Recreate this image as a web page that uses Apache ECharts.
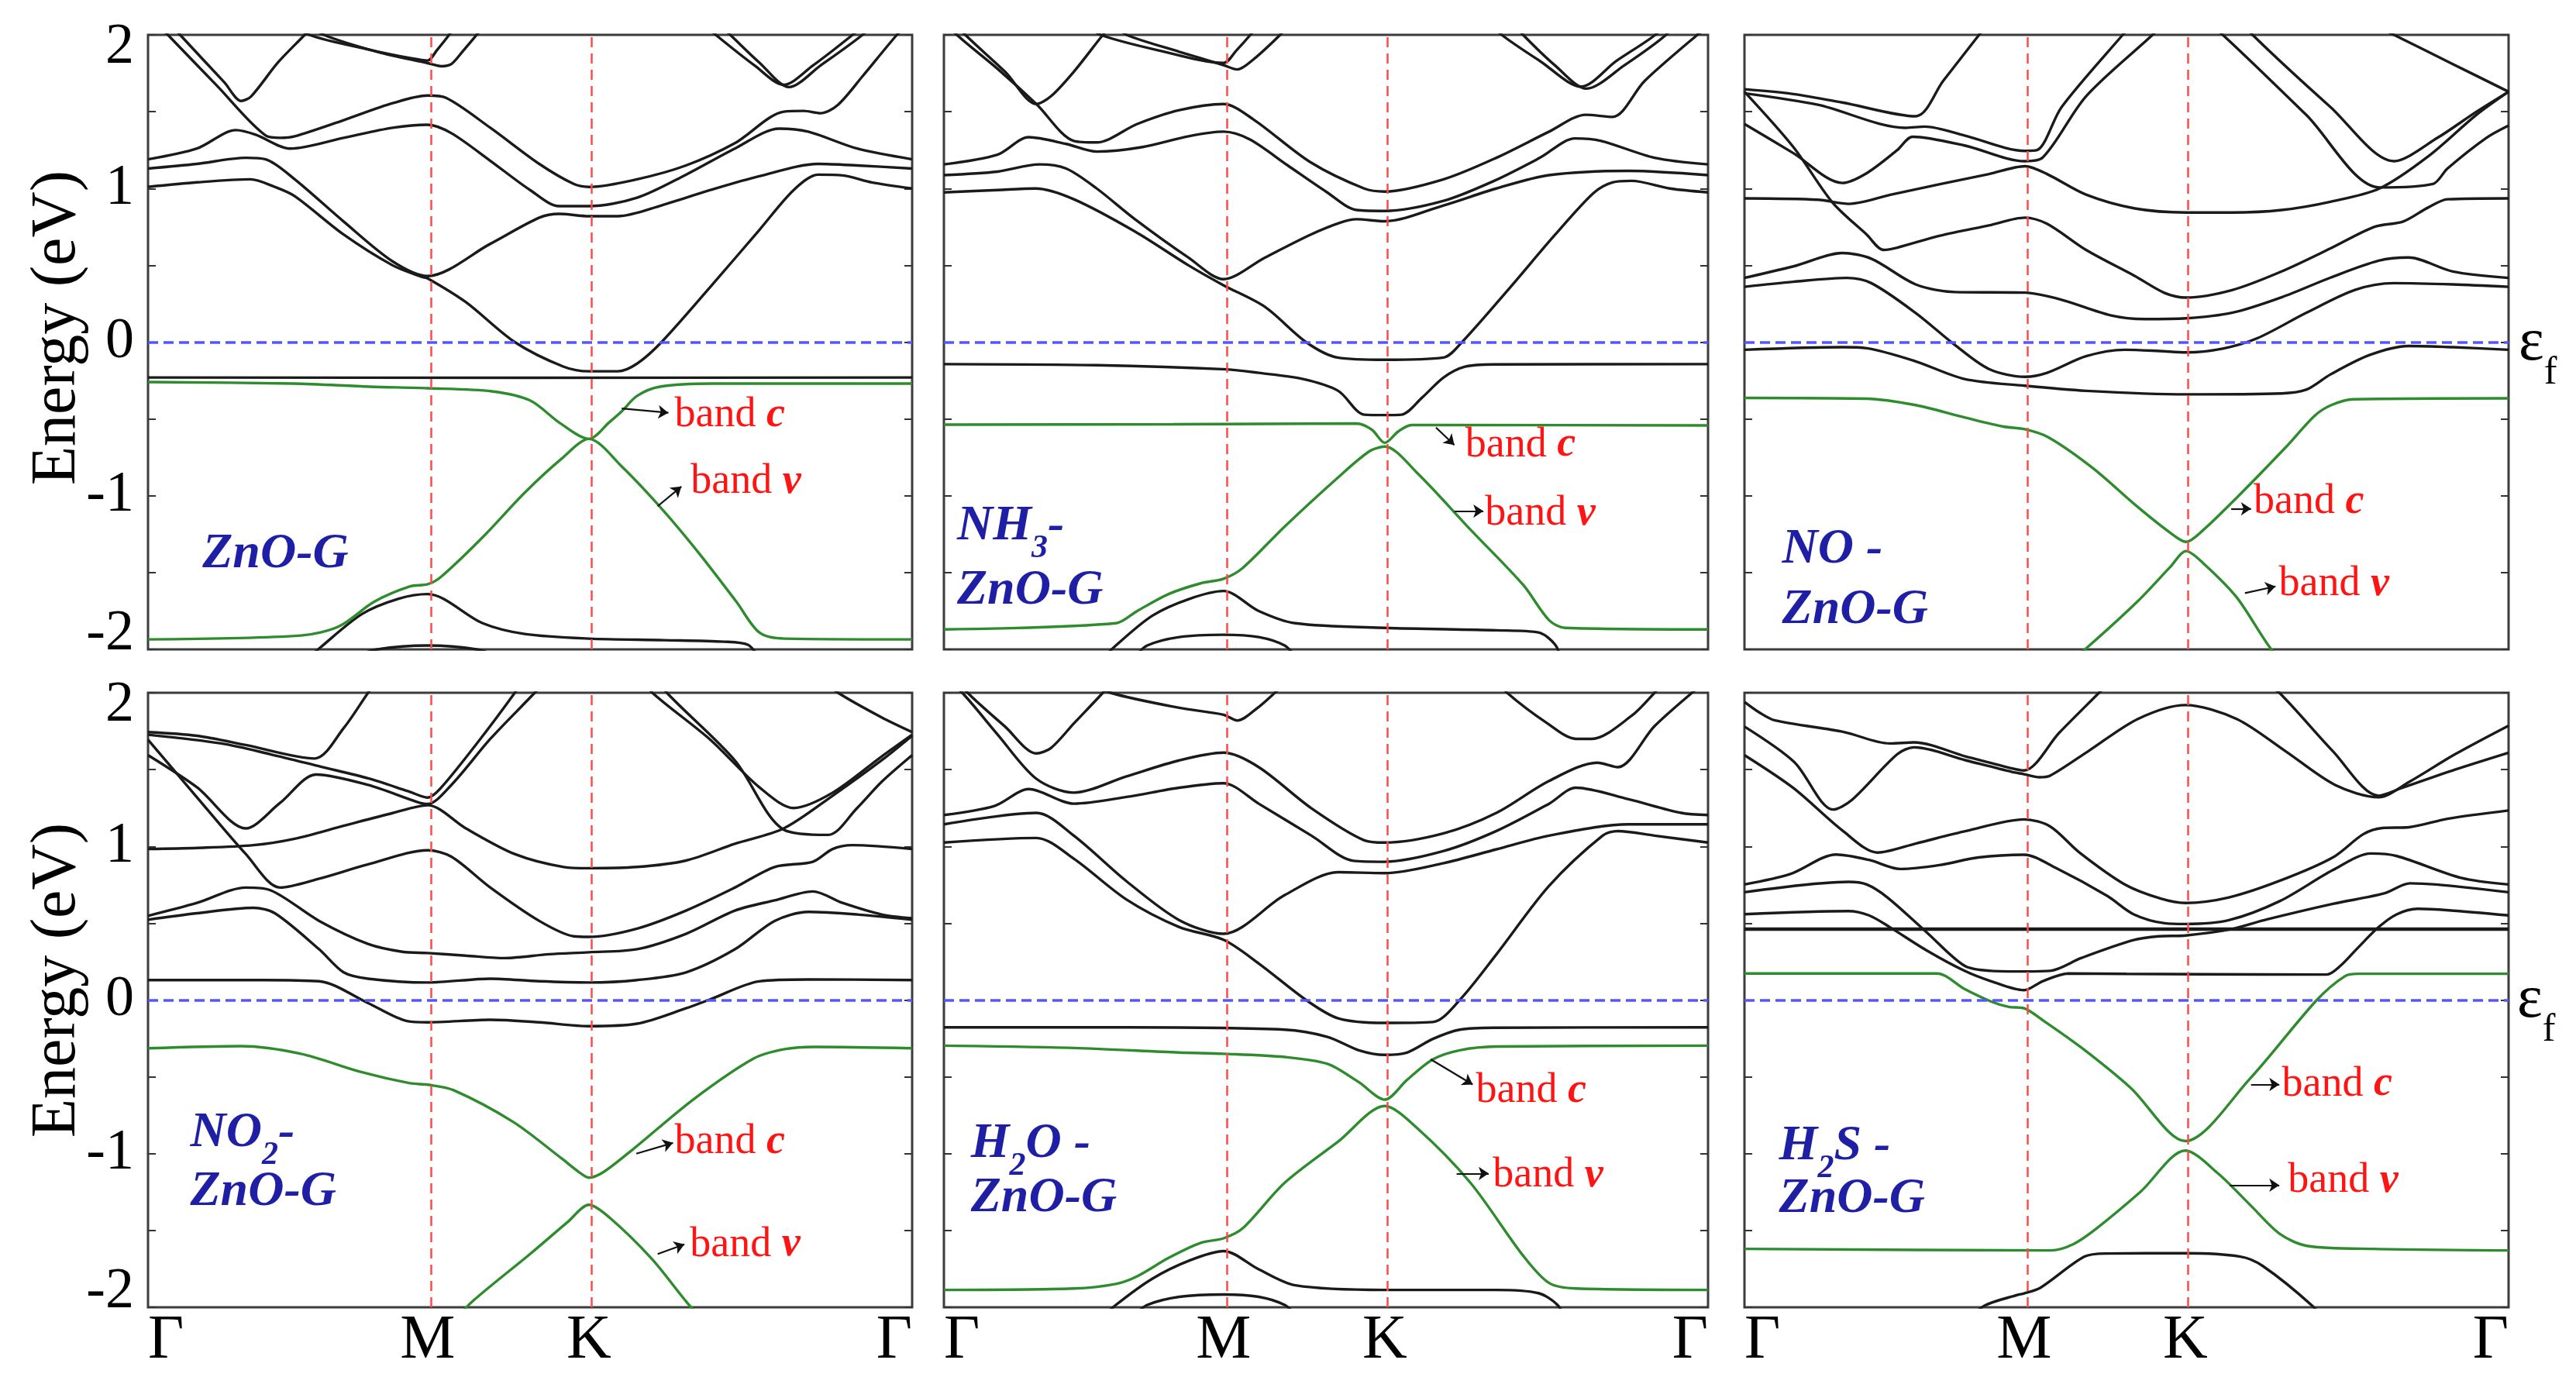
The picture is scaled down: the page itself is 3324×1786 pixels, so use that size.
<!DOCTYPE html>
<html><head><meta charset="utf-8">
<script src="https://cdn.jsdelivr.net/npm/echarts@6/dist/echarts.min.js"></script>
<style>html,body{margin:0;padding:0;background:#fff}#c{width:3324px;height:1786px}</style>
</head><body><div id="c"></div>
<script>
const FONT = 'Liberation Serif';
const kTicks = [0, 0.366, 0.577, 1];
const kLabels = ['Γ', 'M', 'K', 'Γ'];
const eTicksMajor = [-2, -1, 0, 1, 2];

// ---------- ZnO-G ----------
const znoBlack = [
 [[0,-0.23],[0.5,-0.232],[1,-0.23]],
 [[0,1.01],[0.064,1.04],[0.134,1.06],[0.166,1.01],[0.192,0.95],[0.256,0.70],[0.32,0.50],[0.358,0.425],[0.366,0.415],[0.416,0.26],[0.48,0],[0.544,-0.16],[0.577,-0.19],[0.615,-0.19],[0.64,-0.14],[0.672,0],[0.736,0.36],[0.8,0.73],[0.845,0.99],[0.877,1.09],[0.909,1.085],[0.947,1.04],[1,1.0]],
 [[0,1.13],[0.064,1.16],[0.128,1.2],[0.154,1.19],[0.192,1.06],[0.256,0.785],[0.32,0.526],[0.366,0.43],[0.448,0.64],[0.512,0.81],[0.538,0.835],[0.577,0.82],[0.615,0.82],[0.672,0.89],[0.736,0.99],[0.8,1.08],[0.877,1.16],[0.928,1.15],[1,1.13]],
 [[0,1.19],[0.064,1.26],[0.115,1.38],[0.141,1.35],[0.186,1.26],[0.256,1.33],[0.32,1.395],[0.366,1.415],[0.397,1.36],[0.448,1.18],[0.5,0.99],[0.538,0.885],[0.577,0.885],[0.64,0.94],[0.704,1.09],[0.768,1.26],[0.826,1.39],[0.864,1.37],[0.928,1.26],[1,1.19]],
 [[0,2.13],[0.026,2.0],[0.09,1.67],[0.154,1.345],[0.173,1.33],[0.192,1.34],[0.256,1.445],[0.32,1.555],[0.366,1.605],[0.39,1.59],[0.448,1.395],[0.512,1.16],[0.557,1.03],[0.577,1.01],[0.64,1.06],[0.704,1.15],[0.768,1.295],[0.832,1.5],[0.858,1.505],[0.88,1.49],[0.903,1.545],[0.935,1.73],[0.98,2.0],[1,2.1]],
 [[0,2.23],[0.042,2.0],[0.1,1.69],[0.122,1.57],[0.135,1.6],[0.17,1.82],[0.205,2.0],[0.22,2.08]],
 [[0.19,2.08],[0.211,2.0],[0.288,1.905],[0.346,1.846],[0.366,1.833],[0.378,1.9],[0.394,2.0],[0.405,2.08]],
 [[0.215,2.06],[0.23,2.0],[0.3,1.89],[0.366,1.816],[0.384,1.796],[0.397,1.81],[0.413,1.9],[0.43,2.0],[0.44,2.06]],
 [[0.725,2.08],[0.743,2.0],[0.794,1.8],[0.832,1.675],[0.87,1.8],[0.922,2.0],[0.94,2.08]],
 [[0.745,2.08],[0.762,2.0],[0.8,1.82],[0.839,1.66],[0.88,1.8],[0.935,2.0],[0.95,2.08]],
 [[0.2,-2.1],[0.225,-1.99],[0.28,-1.77],[0.328,-1.67],[0.366,-1.64],[0.438,-1.83],[0.493,-1.9],[0.577,-1.93],[0.675,-1.94],[0.754,-1.95],[0.785,-1.97],[0.8,-2.05],[0.81,-2.1]],
 [[0.27,-2.05],[0.3,-2.0],[0.366,-1.975],[0.43,-2.0],[0.46,-2.05]]
];
const znoGreen = [
 [[0,-0.26],[0.19,-0.27],[0.29,-0.29],[0.366,-0.30],[0.45,-0.32],[0.5,-0.38],[0.54,-0.53],[0.577,-0.63],[0.604,-0.52],[0.62,-0.45],[0.64,-0.35],[0.67,-0.29],[0.74,-0.27],[1,-0.27]],
 [[0,-1.935],[0.2,-1.91],[0.25,-1.85],[0.296,-1.69],[0.343,-1.59],[0.366,-1.576],[0.383,-1.53],[0.438,-1.27],[0.493,-0.98],[0.541,-0.76],[0.577,-0.63],[0.62,-0.81],[0.675,-1.10],[0.722,-1.38],[0.77,-1.69],[0.8,-1.89],[0.833,-1.93],[1,-1.935]]
];

// ---------- NH3-ZnO-G ----------
const nh3Black = [
 [[0,-0.143],[0.2,-0.15],[0.37,-0.177],[0.412,-0.2],[0.47,-0.24],[0.516,-0.317],[0.55,-0.472],[0.577,-0.475],[0.599,-0.472],[0.626,-0.36],[0.654,-0.23],[0.682,-0.16],[0.72,-0.145],[1,-0.143]],
 [[0,0.975],[0.07,0.99],[0.12,1.0],[0.17,0.93],[0.25,0.72],[0.32,0.5],[0.366,0.37],[0.42,0.23],[0.474,0],[0.515,-0.1],[0.577,-0.115],[0.654,-0.1],[0.678,0],[0.74,0.35],[0.8,0.7],[0.85,0.97],[0.875,1.04],[0.9,1.05],[0.95,1.0],[1,0.975]],
 [[0,1.087],[0.07,1.11],[0.125,1.157],[0.16,1.13],[0.2,1.0],[0.25,0.8],[0.32,0.55],[0.366,0.41],[0.42,0.55],[0.48,0.70],[0.52,0.78],[0.54,0.8],[0.577,0.787],[0.654,0.89],[0.723,1.0],[0.792,1.087],[0.896,1.115],[1,1.087]],
 [[0,1.157],[0.07,1.22],[0.111,1.334],[0.16,1.29],[0.2,1.24],[0.26,1.27],[0.32,1.34],[0.366,1.37],[0.4,1.32],[0.45,1.15],[0.5,0.98],[0.54,0.86],[0.577,0.854],[0.654,0.92],[0.72,1.05],[0.78,1.2],[0.826,1.326],[0.86,1.31],[0.93,1.2],[1,1.157]],
 [[0,2.1],[0.017,2.0],[0.07,1.78],[0.121,1.55],[0.17,1.31],[0.2,1.3],[0.253,1.42],[0.308,1.51],[0.366,1.55],[0.405,1.45],[0.48,1.17],[0.55,1.0],[0.577,0.98],[0.654,1.06],[0.723,1.2],[0.792,1.37],[0.84,1.48],[0.875,1.466],[0.917,1.7],[0.986,2.0],[1,2.05]],
 [[0,2.15],[0.028,2.0],[0.08,1.76],[0.121,1.55],[0.14,1.6],[0.17,1.76],[0.208,2.0],[0.225,2.1]],
 [[0.19,2.06],[0.205,2.0],[0.28,1.9],[0.366,1.817],[0.383,1.9],[0.401,2.0],[0.41,2.06]],
 [[0.225,2.06],[0.239,2.0],[0.308,1.89],[0.366,1.803],[0.384,1.775],[0.405,1.84],[0.44,2.0],[0.45,2.06]],
 [[0.715,2.08],[0.73,2.0],[0.78,1.83],[0.834,1.663],[0.88,1.83],[0.931,2.0],[0.945,2.08]],
 [[0.745,2.08],[0.758,2.0],[0.8,1.8],[0.841,1.65],[0.89,1.8],[0.945,2.0],[0.955,2.08]],
 [[0.2,-2.1],[0.225,-1.975],[0.273,-1.78],[0.322,-1.67],[0.366,-1.62],[0.412,-1.75],[0.46,-1.83],[0.577,-1.86],[0.723,-1.876],[0.778,-1.89],[0.8,-1.97],[0.81,-2.1]],
 [[0.25,-2.05],[0.266,-1.975],[0.308,-1.92],[0.366,-1.905],[0.412,-1.92],[0.446,-1.975],[0.46,-2.05]]
];
const nh3Green = [
 [[0,-0.537],[0.3,-0.535],[0.54,-0.53],[0.56,-0.57],[0.577,-0.655],[0.595,-0.58],[0.612,-0.54],[0.65,-0.54],[1,-0.542]],
 [[0,-1.87],[0.225,-1.83],[0.253,-1.75],[0.294,-1.64],[0.336,-1.57],[0.366,-1.54],[0.391,-1.47],[0.446,-1.2],[0.516,-0.88],[0.557,-0.71],[0.577,-0.68],[0.619,-0.85],[0.689,-1.22],[0.758,-1.58],[0.792,-1.81],[0.813,-1.86],[1,-1.87]]
];

// ---------- NO-ZnO-G ----------
const noBlack = [
 [[0,-0.05],[0.128,-0.033],[0.16,-0.04],[0.224,-0.125],[0.288,-0.24],[0.367,-0.284],[0.447,-0.317],[0.578,-0.34],[0.703,-0.334],[0.735,-0.31],[0.767,-0.21],[0.818,-0.084],[0.869,-0.025],[0.927,-0.033],[1,-0.05]],
 [[0,0.36],[0.064,0.393],[0.134,0.418],[0.166,0.384],[0.224,0.19],[0.275,-0.017],[0.32,-0.175],[0.367,-0.226],[0.396,-0.2],[0.447,-0.092],[0.498,-0.05],[0.543,-0.058],[0.578,-0.067],[0.626,-0.042],[0.671,0.025],[0.735,0.19],[0.799,0.34],[0.85,0.384],[0.927,0.376],[1,0.36]],
 [[0,0.418],[0.064,0.493],[0.128,0.58],[0.166,0.543],[0.224,0.376],[0.275,0.326],[0.367,0.322],[0.415,0.276],[0.479,0.175],[0.524,0.15],[0.578,0.155],[0.639,0.192],[0.703,0.292],[0.767,0.42],[0.83,0.53],[0.869,0.551],[0.927,0.46],[1,0.418]],
 [[0,1.63],[0.064,1.27],[0.115,0.91],[0.16,0.70],[0.182,0.6],[0.2,0.615],[0.256,0.693],[0.32,0.76],[0.367,0.81],[0.396,0.77],[0.447,0.6],[0.511,0.43],[0.55,0.32],[0.578,0.29],[0.639,0.34],[0.703,0.46],[0.767,0.61],[0.824,0.75],[0.862,0.785],[0.895,0.877],[0.92,0.93],[1,0.936]],
 [[0,0.936],[0.096,0.927],[0.137,0.9],[0.192,0.96],[0.256,1.028],[0.32,1.094],[0.367,1.145],[0.396,1.094],[0.447,0.96],[0.511,0.87],[0.578,0.844],[0.639,0.844],[0.703,0.86],[0.767,0.914],[0.831,1.0],[0.895,1.21],[0.958,1.48],[1,1.63]],
 [[0,1.646],[0.064,1.615],[0.128,1.56],[0.224,1.47],[0.26,1.7],[0.307,2.0],[0.32,2.08]],
 [[0,1.62],[0.096,1.545],[0.211,1.395],[0.236,1.403],[0.288,1.345],[0.367,1.245],[0.383,1.25],[0.415,1.53],[0.495,2.0],[0.51,2.08]],
 [[0,1.42],[0.064,1.23],[0.128,1.036],[0.16,1.1],[0.2,1.25],[0.22,1.337],[0.288,1.28],[0.367,1.178],[0.39,1.2],[0.447,1.6],[0.534,2.0],[0.55,2.08]],
 [[0.6,2.1],[0.626,2.0],[0.735,1.48],[0.831,1.007],[0.901,1.03],[0.92,1.13],[0.971,1.33],[1,1.41]],
 [[0.65,2.1],[0.665,2.0],[0.767,1.53],[0.85,1.178],[0.907,1.33],[0.958,1.5],[1,1.63]],
 [[0.83,2.05],[0.85,2.0],[0.927,1.81],[1,1.63]]
];
const noGreen = [
 [[0,-0.363],[0.16,-0.368],[0.224,-0.41],[0.288,-0.49],[0.339,-0.55],[0.367,-0.567],[0.398,-0.62],[0.456,-0.82],[0.514,-1.07],[0.557,-1.24],[0.578,-1.30],[0.60,-1.225],[0.644,-1.014],[0.71,-0.676],[0.746,-0.48],[0.768,-0.41],[0.797,-0.372],[1,-0.366]],
 [[0.42,-2.1],[0.448,-1.99],[0.514,-1.69],[0.557,-1.465],[0.578,-1.36],[0.6,-1.437],[0.644,-1.66],[0.688,-1.99],[0.71,-2.1]]
];

// ---------- NO2-ZnO-G ----------
const no2Black = [
 [[0,0.13],[0.15,0.13],[0.224,0.122],[0.288,-0.02],[0.339,-0.137],[0.366,-0.145],[0.448,-0.129],[0.512,-0.145],[0.577,-0.17],[0.64,-0.154],[0.704,-0.054],[0.736,0.005],[0.8,0.122],[0.864,0.134],[1,0.13]],
 [[0,0.523],[0.064,0.565],[0.138,0.6],[0.166,0.565],[0.224,0.33],[0.256,0.18],[0.288,0.139],[0.366,0.114],[0.448,0.139],[0.512,0.122],[0.577,0.114],[0.64,0.13],[0.704,0.18],[0.768,0.33],[0.82,0.515],[0.864,0.574],[0.928,0.557],[1,0.523]],
 [[0,0.548],[0.064,0.632],[0.128,0.732],[0.16,0.715],[0.224,0.515],[0.288,0.365],[0.333,0.314],[0.366,0.306],[0.416,0.289],[0.467,0.273],[0.525,0.298],[0.577,0.311],[0.64,0.331],[0.704,0.431],[0.768,0.582],[0.82,0.649],[0.87,0.707],[0.909,0.632],[0.96,0.557],[1,0.532]],
 [[0,1.694],[0.064,1.32],[0.128,0.95],[0.173,0.732],[0.224,0.79],[0.288,0.883],[0.366,0.975],[0.397,0.933],[0.448,0.732],[0.512,0.515],[0.557,0.415],[0.577,0.411],[0.64,0.465],[0.704,0.582],[0.768,0.732],[0.82,0.866],[0.87,0.9],[0.896,0.983],[0.922,1.008],[1,0.983]],
 [[0,0.983],[0.064,0.99],[0.138,1.008],[0.192,1.05],[0.256,1.134],[0.32,1.217],[0.366,1.268],[0.416,1.117],[0.48,0.95],[0.544,0.866],[0.577,0.858],[0.64,0.866],[0.704,0.908],[0.768,1.017],[0.832,1.117],[0.896,1.33],[0.96,1.56],[1,1.72]],
 [[0,1.744],[0.064,1.72],[0.128,1.66],[0.218,1.572],[0.256,1.77],[0.288,2.0],[0.3,2.08]],
 [[0,1.727],[0.096,1.67],[0.16,1.6],[0.227,1.518],[0.288,1.443],[0.34,1.36],[0.366,1.318],[0.384,1.385],[0.435,1.7],[0.48,2.0],[0.49,2.08]],
 [[0,1.594],[0.064,1.385],[0.128,1.117],[0.173,1.284],[0.22,1.468],[0.288,1.4],[0.352,1.29],[0.366,1.276],[0.397,1.4],[0.448,1.7],[0.506,2.0],[0.52,2.08]],
 [[0.65,2.08],[0.66,2.0],[0.736,1.694],[0.8,1.385],[0.845,1.25],[0.896,1.35],[0.96,1.585],[1,1.727]],
 [[0.67,2.08],[0.679,2.0],[0.768,1.56],[0.832,1.109],[0.89,1.075],[0.928,1.25],[0.96,1.42],[1,1.594]],
 [[0.89,2.06],[0.903,2.0],[0.96,1.84],[1,1.744]]
];
const no2Green = [
 [[0,-0.314],[0.122,-0.30],[0.2,-0.35],[0.28,-0.47],[0.343,-0.542],[0.366,-0.551],[0.4,-0.587],[0.478,-0.794],[0.541,-1.03],[0.564,-1.12],[0.577,-1.156],[0.596,-1.12],[0.635,-0.97],[0.714,-0.646],[0.793,-0.38],[0.833,-0.32],[0.872,-0.305],[1,-0.314]],
 [[0.4,-2.1],[0.422,-1.973],[0.5,-1.653],[0.549,-1.446],[0.577,-1.333],[0.604,-1.416],[0.659,-1.683],[0.706,-1.973],[0.73,-2.1]]
];

// ---------- H2O-ZnO-G ----------
const h2oBlack = [
 [[0,-0.178],[0.24,-0.178],[0.446,-0.193],[0.502,-0.24],[0.543,-0.327],[0.577,-0.357],[0.606,-0.342],[0.64,-0.253],[0.675,-0.193],[0.72,-0.18],[1,-0.178]],
 [[0,1.025],[0.121,1.055],[0.17,0.92],[0.239,0.654],[0.308,0.475],[0.366,0.392],[0.412,0.238],[0.474,0],[0.516,-0.119],[0.577,-0.149],[0.64,-0.143],[0.675,0],[0.723,0.297],[0.792,0.743],[0.862,1.07],[0.882,1.1],[0.93,1.07],[1,1.025]],
 [[0,1.144],[0.121,1.218],[0.17,1.07],[0.239,0.773],[0.308,0.52],[0.366,0.431],[0.446,0.683],[0.516,0.832],[0.577,0.826],[0.654,0.891],[0.723,0.981],[0.792,1.07],[0.896,1.144],[1,1.144]],
 [[0,1.204],[0.066,1.263],[0.111,1.373],[0.17,1.278],[0.239,1.322],[0.308,1.382],[0.366,1.411],[0.412,1.278],[0.481,1.07],[0.536,0.906],[0.577,0.9],[0.654,0.97],[0.723,1.1],[0.792,1.278],[0.827,1.382],[0.896,1.307],[0.965,1.218],[1,1.204]],
 [[0,2.1],[0.024,2.0],[0.07,1.73],[0.121,1.44],[0.17,1.35],[0.239,1.456],[0.308,1.56],[0.366,1.61],[0.412,1.516],[0.481,1.248],[0.55,1.04],[0.577,1.025],[0.654,1.085],[0.723,1.218],[0.792,1.426],[0.855,1.545],[0.882,1.516],[0.93,1.783],[0.979,2.0],[1,2.08]],
 [[0,2.18],[0.031,2.0],[0.08,1.78],[0.121,1.605],[0.14,1.64],[0.17,1.8],[0.208,2.0],[0.225,2.1]],
 [[0.2,2.06],[0.218,2.0],[0.308,1.902],[0.366,1.857],[0.384,1.819],[0.41,1.9],[0.433,2.0],[0.445,2.06]],
 [[0.73,2.06],[0.737,2.0],[0.79,1.8],[0.827,1.7],[0.848,1.7],[0.9,1.85],[0.93,2.0],[0.94,2.06]],
 [[0.2,-2.1],[0.225,-1.985],[0.273,-1.813],[0.322,-1.694],[0.366,-1.634],[0.412,-1.753],[0.46,-1.857],[0.577,-1.887],[0.723,-1.887],[0.778,-1.908],[0.803,-1.985],[0.815,-2.1]],
 [[0.25,-2.05],[0.266,-1.985],[0.308,-1.932],[0.366,-1.917],[0.412,-1.932],[0.446,-1.985],[0.46,-2.05]]
];
const h2oGreen = [
 [[0,-0.297],[0.17,-0.312],[0.308,-0.342],[0.366,-0.35],[0.446,-0.371],[0.502,-0.416],[0.543,-0.535],[0.577,-0.648],[0.606,-0.52],[0.64,-0.386],[0.675,-0.327],[0.723,-0.303],[1,-0.297]],
 [[0,-1.887],[0.17,-1.878],[0.225,-1.848],[0.253,-1.798],[0.294,-1.679],[0.336,-1.581],[0.366,-1.551],[0.391,-1.486],[0.446,-1.189],[0.516,-0.921],[0.577,-0.69],[0.619,-0.832],[0.689,-1.189],[0.758,-1.664],[0.792,-1.842],[0.827,-1.878],[1,-1.887]]
];

// ---------- H2S-ZnO-G ----------
const h2sBlack = [
 [[0,0.462],[0.5,0.462],[1,0.462]],
 [[0,0.559],[0.136,0.579],[0.163,0.551],[0.19,0.475],[0.238,0.324],[0.288,0.19],[0.323,0.122],[0.366,0.064],[0.39,0.122],[0.424,0.173],[0.5,0.17],[0.6,0.168],[0.762,0.166],[0.78,0.223],[0.803,0.341],[0.83,0.475],[0.854,0.559],[0.881,0.594],[0.922,0.584],[1,0.551]],
 [[0,0.702],[0.136,0.769],[0.16,0.752],[0.187,0.668],[0.238,0.443],[0.288,0.223],[0.323,0.19],[0.366,0.186],[0.4,0.19],[0.441,0.274],[0.509,0.39],[0.542,0.415],[0.577,0.42],[0.634,0.458],[0.684,0.525],[0.77,0.626],[0.837,0.694],[0.871,0.76],[0.905,0.752],[1,0.702]],
 [[0,0.752],[0.06,0.82],[0.12,0.947],[0.163,0.912],[0.204,0.853],[0.255,0.878],[0.306,0.928],[0.366,0.946],[0.407,0.861],[0.475,0.677],[0.509,0.559],[0.55,0.5],[0.577,0.495],[0.634,0.52],[0.701,0.645],[0.77,0.846],[0.82,0.954],[0.854,0.937],[0.938,0.795],[1,0.752]],
 [[0,1.594],[0.064,1.38],[0.129,1.1],[0.174,0.96],[0.225,1.02],[0.29,1.1],[0.366,1.176],[0.4,1.13],[0.438,0.962],[0.498,0.752],[0.545,0.66],[0.577,0.632],[0.634,0.668],[0.701,0.777],[0.77,0.928],[0.81,1.08],[0.835,1.12],[0.87,1.125],[0.92,1.18],[1,1.234]],
 [[0,1.94],[0.02,1.87],[0.04,1.82],[0.13,1.745],[0.19,1.67],[0.222,1.677],[0.29,1.585],[0.348,1.51],[0.366,1.494],[0.412,1.74],[0.464,2.0],[0.48,2.08]],
 [[0,1.78],[0.065,1.55],[0.116,1.24],[0.14,1.3],[0.2,1.6],[0.222,1.645],[0.29,1.56],[0.35,1.485],[0.366,1.47],[0.386,1.45],[0.4,1.46],[0.45,1.62],[0.515,1.83],[0.577,1.92],[0.644,1.83],[0.708,1.62],[0.773,1.4],[0.83,1.32],[0.87,1.42],[0.93,1.6],[1,1.786]],
 [[0.68,2.06],[0.7,2.0],[0.77,1.62],[0.83,1.33],[0.86,1.38],[0.93,1.5],[1,1.61]],
 [[0.29,-2.1],[0.314,-1.99],[0.357,-1.92],[0.366,-1.91],[0.387,-1.874],[0.445,-1.67],[0.474,-1.65],[0.577,-1.648],[0.649,-1.67],[0.678,-1.73],[0.743,-1.99],[0.76,-2.1]]
];
const h2sGreen = [
 [[0,0.173],[0.252,0.173],[0.288,0.072],[0.323,-0.01],[0.346,-0.045],[0.366,-0.054],[0.39,-0.13],[0.441,-0.31],[0.505,-0.57],[0.577,-0.918],[0.661,-0.515],[0.749,0],[0.786,0.156],[0.803,0.171],[1,0.171]],
 [[0,-1.62],[0.401,-1.63],[0.43,-1.59],[0.46,-1.49],[0.518,-1.25],[0.577,-0.98],[0.62,-1.13],[0.663,-1.34],[0.7,-1.52],[0.736,-1.6],[0.823,-1.62],[1,-1.63]]
];

// panel titles (rich text) and label anchors in data coordinates
const panelTitles = [
 [['{m|ZnO-G}', 0.071, -1.38]],
 [['{m|NH}{s|3}{m|-}', 0.017, -1.2], ['{m|ZnO-G}', 0.017, -1.62]],
 [['{m|NO -}', 0.049, -1.35], ['{m|ZnO-G}', 0.049, -1.746]],
 [['{m|NO}{s|2}{m|-}', 0.055, -0.868], ['{m|ZnO-G}', 0.055, -1.253]],
 [['{m|H}{s|2}{m|O -}', 0.035, -0.936], ['{m|ZnO-G}', 0.035, -1.293]],
 [['{m|H}{s|2}{m|S -}', 0.045, -0.952], ['{m|ZnO-G}', 0.045, -1.295]]
];
const bandC = [[0.689,-0.475],[0.682,-0.67],[0.666,-1.04],[0.689,-0.927],[0.696,-0.594],[0.703,-0.55]];
const bandV = [[0.71,-0.912],[0.708,-1.118],[0.699,-1.577],[0.709,-1.594],[0.718,-1.144],[0.711,-1.176]];
const arrowC = [[[0.62,-0.432],[0.681,-0.46]],[[0.644,-0.556],[0.668,-0.67]],[[0.637,-1.085],[0.663,-1.085]],[[0.639,-1.0],[0.687,-0.93]],[[0.637,-0.386],[0.692,-0.55]],[[0.663,-0.55],[0.7,-0.55]]];
const arrowV = [[[0.667,-1.068],[0.698,-0.94]],[[0.668,-1.10],[0.706,-1.10]],[[0.655,-1.634],[0.695,-1.59]],[[0.667,-1.653],[0.702,-1.59]],[[0.671,-1.129],[0.713,-1.129]],[[0.635,-1.205],[0.7,-1.205]]];

const panels = [
 {black: znoBlack, green: znoGreen},
 {black: nh3Black, green: nh3Green},
 {black: noBlack, green: noGreen},
 {black: no2Black, green: no2Green},
 {black: h2oBlack, green: h2oGreen},
 {black: h2sBlack, green: h2sGreen}
];

const boxes = [[191,45],[1218,45],[2251,45],[191,894],[1218,894],[2251,894]];
const GW = 986, GH = 793;
const BLACK = '#1a1a1a', GREEN = '#2e8b2e', TITLE = '#1f1fa5', RED = '#ff1414';

const titleRich = {
  m: {fontFamily: FONT, fontSize: 64, fontWeight: 'bold', fontStyle: 'italic', color: TITLE, lineHeight: 100},
  s: {fontFamily: FONT, fontSize: 42, fontWeight: 'bold', fontStyle: 'italic', color: TITLE, lineHeight: 42, verticalAlign: 'bottom'}
};
const bandRich = {
  n: {fontFamily: FONT, fontSize: 54, color: RED, lineHeight: 60},
  i: {fontFamily: FONT, fontSize: 54, fontWeight: 'bold', fontStyle: 'italic', color: RED, lineHeight: 60}
};

function labelPoint(txt, x, y, rich) {
  return {coord: [x, y], symbol: 'circle', symbolSize: 0.5, itemStyle: {color: 'rgba(0,0,0,0)'},
    label: {show: true, position: 'right', distance: 0, fontFamily: FONT, formatter: () => txt, rich: rich}};
}

const grid = [], xAxis = [], yAxis = [], series = [];
panels.forEach((p, i) => {
  const bottomRow = i >= 3, leftCol = i % 3 === 0;
  grid.push({left: boxes[i][0], top: boxes[i][1], width: GW, height: GH, show: true,
    borderColor: '#3c3c3c', borderWidth: 3, backgroundColor: 'rgba(0,0,0,0)'});
  xAxis.push({type: 'value', gridIndex: i, min: 0, max: 1,
    axisLine: {show: false}, splitLine: {show: false}, axisTick: {show: false},
    axisLabel: bottomRow ? {show: true, customValues: kTicks, fontFamily: FONT, fontSize: 80, color: '#000', margin: 4,
      alignMinLabel: 'left', alignMaxLabel: 'right', showMinLabel: true, showMaxLabel: true,
      formatter: v => { let b = 0; kTicks.forEach((t, j) => { if (Math.abs(t - v) < Math.abs(kTicks[b] - v)) b = j; }); return kLabels[b]; }}
      : {show: false}});
  const yBase = {type: 'value', gridIndex: i, min: -2, max: 2, interval: 0.5,
    axisLine: {show: false}, splitLine: {show: false},
    axisTick: {show: true, inside: true, length: 10, lineStyle: {color: '#333', width: 2}}};
  yAxis.push(Object.assign({}, yBase, {position: 'left',
    axisLabel: leftCol ? {show: true, fontFamily: FONT, fontSize: 74, color: '#000', margin: 18,
      formatter: v => {
        if (!eTicksMajor.includes(v)) return '';
        if (v === 2) return '{t|2}';
        if (v === -2) return '{b|-2}';
        return '{n|' + v + '}';
      },
      rich: {n: {fontFamily: FONT, fontSize: 74, color: '#000'},
             t: {fontFamily: FONT, fontSize: 74, color: '#000', padding: [34, 0, 0, 0]},
             b: {fontFamily: FONT, fontSize: 74, color: '#000', padding: [0, 0, 38, 0]}}} : {show: false}}));
  yAxis.push(Object.assign({}, yBase, {position: 'right', axisLabel: {show: false}}));

  const mk = (band, color, width) => ({type: 'line', xAxisIndex: i, yAxisIndex: 2 * i, data: band,
    showSymbol: false, symbol: 'none', smooth: 0.3, clip: true, silent: true,
    lineStyle: {color: color, width: width}, z: 3});
  p.black.forEach((b, j) => series.push(mk(b, BLACK, (i === 5 && j === 0) ? 4.5 : 3.4)));
  p.green.forEach(b => series.push(mk(b, GREEN, 3.4)));

  const pts = panelTitles[i].map(t => labelPoint(t[0], t[1], t[2], titleRich));
  pts.push(labelPoint('{n|band }{i|c}', bandC[i][0], bandC[i][1], bandRich));
  pts.push(labelPoint('{n|band }{i|v}', bandV[i][0], bandV[i][1], bandRich));

  series.push({type: 'line', xAxisIndex: i, yAxisIndex: 2 * i, data: [[0.5, 10]], showSymbol: false,
    lineStyle: {width: 0}, silent: true, z: 4,
    markLine: {silent: true, symbol: ['none', 'none'], label: {show: false}, animation: false,
      data: [
        {xAxis: kTicks[1], lineStyle: {color: '#ff4a4a', type: [13, 8], width: 2.5}},
        {xAxis: kTicks[2], lineStyle: {color: '#ff4a4a', type: [13, 8], width: 2.5}},
        {yAxis: 0, lineStyle: {color: '#5555ff', type: [13, 7], width: 3.5}}
      ]},
    markPoint: {silent: true, animation: false, data: pts}
  });
  series.push({type: 'line', xAxisIndex: i, yAxisIndex: 2 * i, data: [[0.5, 10]], showSymbol: false,
    lineStyle: {width: 0}, silent: true, z: 5,
    markLine: {silent: true, symbol: ['none', 'arrow'], symbolSize: 13, label: {show: false}, animation: false,
      lineStyle: {color: '#111', width: 2.2, type: 'solid'},
      data: [arrowC[i], arrowV[i]].map(a => [{coord: a[0]}, {coord: a[1]}])}
  });
});

const epsRich = {
  e: {fontFamily: FONT, fontSize: 78, fill: '#000', color: '#000', lineHeight: 126},
  f: {fontFamily: FONT, fontSize: 50, fill: '#000', color: '#000', lineHeight: 50, verticalAlign: 'bottom'}
};
const graphic = [
  {type: 'text', x: 74, y: 423, rotation: Math.PI / 2, style: {text: 'Energy (eV)', fontFamily: FONT, fontSize: 82, fill: '#000', align: 'center', verticalAlign: 'middle'}},
  {type: 'text', x: 74, y: 1265, rotation: Math.PI / 2, style: {text: 'Energy (eV)', fontFamily: FONT, fontSize: 82, fill: '#000', align: 'center', verticalAlign: 'middle'}},
  {type: 'text', x: 3250, y: 444, style: {text: '{e|ε}{f|f}', fontFamily: FONT, rich: epsRich, align: 'left', verticalAlign: 'middle'}},
  {type: 'text', x: 3248, y: 1292, style: {text: '{e|ε}{f|f}', fontFamily: FONT, rich: epsRich, align: 'left', verticalAlign: 'middle'}}
];

const chart = echarts.init(document.getElementById('c'), null, {renderer: 'canvas'});
chart.setOption({
  animation: false,
  backgroundColor: '#fff',
  textStyle: {fontFamily: FONT},
  grid, xAxis, yAxis, series, graphic
});
</script></body></html>
